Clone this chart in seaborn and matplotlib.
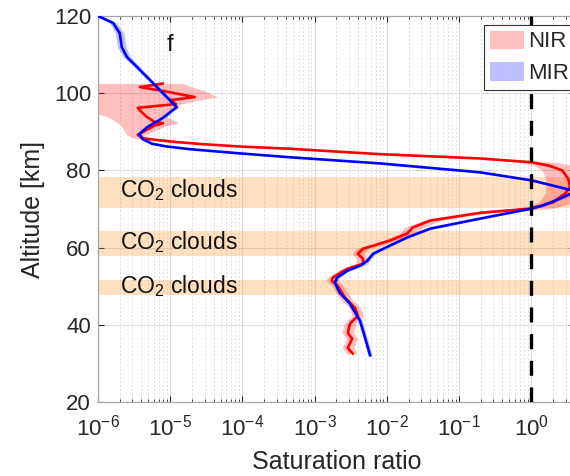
import numpy as np
import matplotlib
matplotlib.use("Agg")
import matplotlib.pyplot as plt
import seaborn as sns

# ---------------- data ----------------
# MIR (blue) profile: altitude [km] and log10(saturation ratio)
mir_alt = [120.0, 118.2, 115.6, 111.9, 109.4, 106.8, 103.4, 100.0, 96.4, 93.5,
           91.2, 89.4, 88.1, 86.9, 86.2, 85.5, 84.4, 83.4, 81.8, 79.5, 77.4,
           74.6, 72.7, 70.8, 70.0, 67.5, 64.9, 62.6, 60.5, 58.4, 56.6,
           55.3, 54.0, 52.2, 50.9, 48.3, 45.5, 41.0, 36.6, 32.0]
mir_log = [-6.00, -5.79, -5.70, -5.67, -5.60, -5.46, -5.28, -5.10, -4.91, -5.11,
           -5.32, -5.43, -5.38, -5.25, -5.05, -4.73, -4.03, -3.34, -2.09, -0.71, 0.01,
           0.62, 0.40, 0.15, -0.02, -0.71, -1.40, -1.72, -1.96, -2.19, -2.27,
           -2.37, -2.55, -2.69, -2.72, -2.65, -2.51, -2.37, -2.30, -2.23]
mir_err = [0.03, 0.05, 0.06, 0.06, 0.05, 0.04, 0.03, 0.03, 0.03, 0.03,
           0.03, 0.03, 0.03, 0.03, 0.03, 0.03, 0.03, 0.03, 0.03, 0.03, 0.04,
           0.06, 0.05, 0.04, 0.03, 0.03, 0.03, 0.03, 0.03, 0.03, 0.03,
           0.03, 0.03, 0.03, 0.03, 0.03, 0.03, 0.03, 0.03, 0.03]

# NIR (red) profile: altitude [km], log10(saturation ratio), and shading bounds
nir_alt = [102.5, 101.6, 101.2, 100.6, 99.0, 98.2, 97.2, 96.2, 95.2, 93.8,
           92.6, 92.2, 91.6, 89.2, 88.3, 87.4, 86.8, 86.2, 85.6, 84.2, 83.1,
           82.1, 81.2, 80.0, 77.9, 75.8, 74.0, 71.7, 70.1, 69.0, 67.0,
           65.2, 63.6, 61.8, 59.7, 58.4, 57.1, 55.8, 54.5, 52.2, 51.4,
           50.1, 47.0, 44.4, 42.3, 40.3, 37.9, 36.4, 34.0, 32.5]
nir_log = [-5.10, -5.42, -5.30, -5.10, -4.66, -5.00, -4.92, -5.45, -5.40, -5.32,
           -5.22, -5.10, -5.22, -5.45, -5.38, -4.95, -4.55, -4.05, -3.34, -2.09, -0.71,
           0.01, 0.25, 0.43, 0.51, 0.54, 0.47, 0.30, -0.02, -0.71, -1.40,
           -1.64, -1.72, -1.96, -2.33, -2.40, -2.33, -2.33, -2.55, -2.75, -2.76,
           -2.68, -2.58, -2.44, -2.40, -2.51, -2.54, -2.48, -2.54, -2.47]
nir_lo = [-6.3, -6.3, -6.3, -6.3, -6.3, -6.3, -6.3, -6.3, -6.1, -5.86,
          -5.75, -5.72, -5.68, -5.60, -5.50, -5.05, -4.65, -4.15, -3.42, -2.20, -0.85,
          -0.15, 0.05, 0.15, 0.20, 0.20, 0.20, 0.10, -0.10, -0.80, -1.50,
          -1.75, -1.82, -2.05, -2.42, -2.48, -2.42, -2.42, -2.63, -2.83, -2.84,
          -2.76, -2.66, -2.52, -2.48, -2.59, -2.62, -2.56, -2.62, -2.55]
nir_hi = [-4.82, -4.70, -4.62, -4.52, -4.34, -4.60, -4.85, -4.95, -5.00, -5.05,
          -4.90, -4.90, -5.05, -5.35, -5.30, -4.88, -4.47, -3.97, -3.28, -2.00, -0.60,
          0.35, 0.60, 0.70, 0.75, 0.75, 0.70, 0.60, 0.30, -0.60, -1.25,
          -1.50, -1.62, -1.88, -2.25, -2.32, -2.25, -2.25, -2.48, -2.68, -2.68,
          -2.60, -2.50, -2.36, -2.32, -2.43, -2.46, -2.40, -2.46, -2.40]

# CO2 cloud layers [bottom, top] in km
cloud_bottom = [70.3, 57.7, 47.7]
cloud_top = [78.3, 64.2, 51.7]
cloud_text_alt = [73.0, 59.7, 48.3]
cloud_label = "CO$_2$ clouds"

x_ticks = [1e-6, 1e-5, 1e-4, 1e-3, 1e-2, 1e-1, 1e0]
x_ticklabels = [r"$\mathdefault{10^{-6}}$", r"$\mathdefault{10^{-5}}$",
                r"$\mathdefault{10^{-4}}$", r"$\mathdefault{10^{-3}}$",
                r"$\mathdefault{10^{-2}}$", r"$\mathdefault{10^{-1}}$",
                r"$\mathdefault{10^{0}}$"]
y_ticks = [20, 40, 60, 80, 100, 120]

# ---------------- style ----------------
sns.set_style("ticks")
plt.rcParams["font.family"] = ["Liberation Sans", "DejaVu Sans"]
plt.rcParams["mathtext.fontset"] = "custom"
plt.rcParams["mathtext.rm"] = "Liberation Sans"
plt.rcParams["mathtext.it"] = "Liberation Sans:italic"
plt.rcParams["mathtext.bf"] = "Liberation Sans:bold"

W, H = 570, 476
fig = plt.figure(figsize=(W / 100, H / 100), dpi=100)
ax_left, ax_right, ax_top, ax_bottom = 98, 574.5, 16, 402
ax = fig.add_axes([ax_left / W, (H - ax_bottom) / H,
                   (ax_right - ax_left) / W, (ax_bottom - ax_top) / H])

ax.set_xscale("log")
ax.set_xlim(1e-6, 10 ** 0.6)
ax.set_ylim(20, 120)

# grid
ax.grid(True, which="major", axis="both", color="#dcdcdc", lw=0.8, ls="-")
ax.grid(True, which="minor", axis="x", color="#dedede", lw=0.7, ls=(0, (2, 2)))
ax.set_axisbelow(True)

# cloud bands
for b, t, ta in zip(cloud_bottom, cloud_top, cloud_text_alt):
    ax.axhspan(b, t, color=(1.0, 0.6, 0.2), alpha=0.3, lw=0, zorder=1)
    ax.text(10 ** -5.70, ta, cloud_label, fontsize=16.5, color="#111111",
            va="baseline", ha="left", zorder=6)

# uncertainty shading
mir_alt_a = np.array(mir_alt)
mir_log_a = np.array(mir_log)
mir_err_a = np.array(mir_err)
nir_alt_a = np.array(nir_alt)

h_nir = ax.fill_betweenx(nir_alt_a, 10 ** np.array(nir_lo), 10 ** np.array(nir_hi),
                         color="red", alpha=0.25, lw=0, zorder=2, label="NIR")
h_mir = ax.fill_betweenx(mir_alt_a, 10 ** (mir_log_a - mir_err_a),
                         10 ** (mir_log_a + mir_err_a),
                         color="blue", alpha=0.25, lw=0, zorder=2, label="MIR")

# profiles via seaborn
sns.lineplot(x=10 ** np.array(nir_log), y=nir_alt_a, orient="y", sort=False,
             color="red", lw=1.9, ax=ax, zorder=4)
sns.lineplot(x=10 ** mir_log_a, y=mir_alt_a, orient="y", sort=False,
             color="blue", lw=1.9, ax=ax, zorder=5)

# saturation line
ax.axvline(1.0, color="black", lw=2.4, ls=(0, (4.5, 3.5)), zorder=6)

# ticks & labels
ax.set_xticks(x_ticks)
ax.set_xticklabels(x_ticklabels)
ax.set_yticks(y_ticks)
ax.tick_params(axis="both", which="major", direction="in", length=4, width=0.8,
               labelsize=16, colors="#262626", top=True, right=True)
ax.tick_params(axis="x", which="major", pad=9)
ax.tick_params(axis="y", which="major", pad=5)
ax.tick_params(axis="x", which="minor", direction="in", length=2.5, width=0.6,
               top=True, colors="#262626")
for lab in ax.get_xticklabels() + ax.get_yticklabels():
    lab.set_color("#262626")
for s in ax.spines.values():
    s.set_color("#a6a6a6")
    s.set_linewidth(0.9)

ax.set_xlabel("Saturation ratio", fontsize=18, color="#262626", labelpad=7)
ax.set_ylabel("Altitude [km]", fontsize=18, color="#262626", labelpad=6)

ax.text(10 ** -5.0, 112.5, "f", fontsize=17, color="#111111", ha="center", va="center")

leg = ax.legend(handles=[h_nir, h_mir], labels=["NIR", "MIR"],
                loc="upper left",
                bbox_to_anchor=((484 - ax_left) / (ax_right - ax_left),
                                1 - (25 - ax_top) / (ax_bottom - ax_top)),
                fontsize=16, frameon=True, fancybox=False, framealpha=1,
                edgecolor="#333333", handlelength=1.55, handleheight=0.9,
                handletextpad=0.2, borderpad=0.25, labelspacing=0.45,
                borderaxespad=0)
leg.get_frame().set_linewidth(0.8)
leg.set_zorder(10)

fig.savefig("out.png", dpi=100)
